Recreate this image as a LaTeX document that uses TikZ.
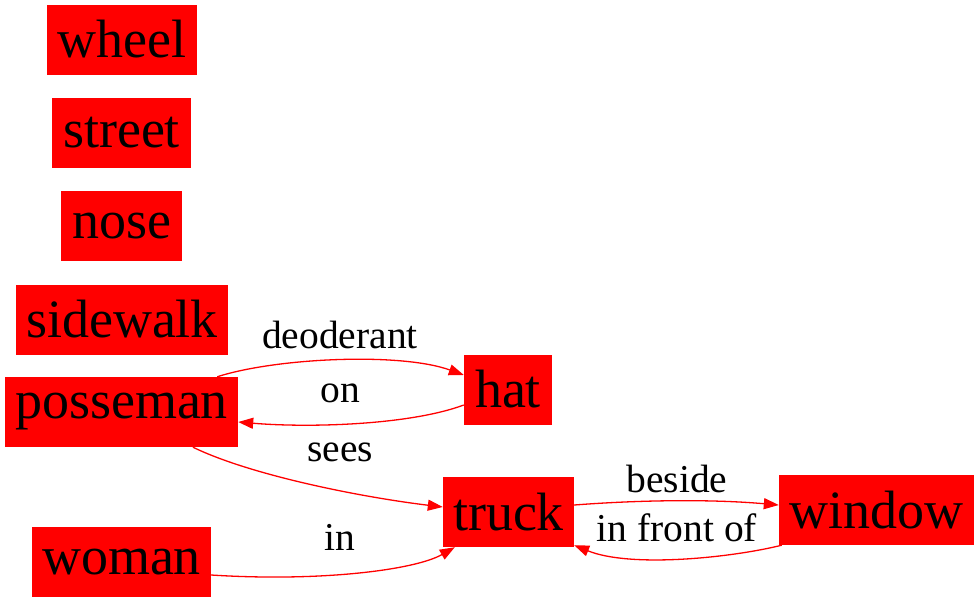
\documentclass[tikz,border=0pt]{standalone}
\usepackage{fontspec}
\setmainfont{Liberation Serif}
\usetikzlibrary{arrows.meta,calc}
\begin{document}
\begin{tikzpicture}[x=1pt,y=-1pt,
  obj/.style={fill=red,draw=none,inner sep=0pt,minimum height=70pt,
    font=\fontsize{54}{54}\selectfont,text=black},
  rel/.style={draw=red,line width=1.3pt,-{Triangle[length=15pt,width=11pt]}},
  lbl/.style={inner sep=0pt,font=\fontsize{39.5}{39.5}\selectfont,text=black}]
\useasboundingbox (0,0) rectangle (980,603);
% objects
\node[obj,minimum width=150pt] (wheel) at (122,39.5) {wheel};
\node[obj,minimum width=139pt] (street) at (121.5,132.5) {street};
\node[obj,minimum width=121pt] (nose) at (121.5,226) {nose};
\node[obj,minimum width=212pt] (sidewalk) at (122,319.5) {sidewalk};
\node[obj,minimum width=233pt] (posseman) at (121.5,412) {posseman};
\node[obj,minimum width=179pt] (woman) at (121.5,562) {woman};
\node[obj,minimum width=88pt] (hat) at (508,389.5) {hat};
\node[obj,minimum width=131pt] (truck) at (508.5,512) {truck};
\node[obj,minimum width=195pt] (window) at (876.5,510) {window};
% relations
\draw[rel] ($(posseman.north east)+(-21,0)$) .. controls (275,358) and (400,352) .. ($(hat.west)+(0,-14.5)$);
\draw[rel] ($(hat.west)+(0,15.5)$) .. controls (410,425) and (310,428) .. ($(posseman.east)+(0,10)$);
\draw[rel] ($(posseman.south)+(71.5,0)$) .. controls (250,475) and (360,497) .. ($(truck.west)+(0,-5)$);
\draw[rel] ($(woman.east)+(0,13)$) .. controls (320,582) and (415,570) .. ($(truck.south west)+(12,0)$);
\draw[rel] ($(truck.east)+(0,-7)$) .. controls (640,500) and (710,499) .. ($(window.west)+(0,-5)$);
\draw[rel] ($(window.south west)+(3,0)$) .. controls (730,558) and (630,568) .. ($(truck.south east)+(0,-2)$);
% relation labels
\node[lbl] (l1) at (340,335) {deoderant};
\node[lbl] (l2) at (340,393) {on};
\node[lbl] (l3) at (340,452) {sees};
\node[lbl] (l4) at (340,537) {in};
\node[lbl] (l5) at (677,479) {beside};
\node[lbl] (l6) at (677,528) {in front of};
\end{tikzpicture}
\end{document}
